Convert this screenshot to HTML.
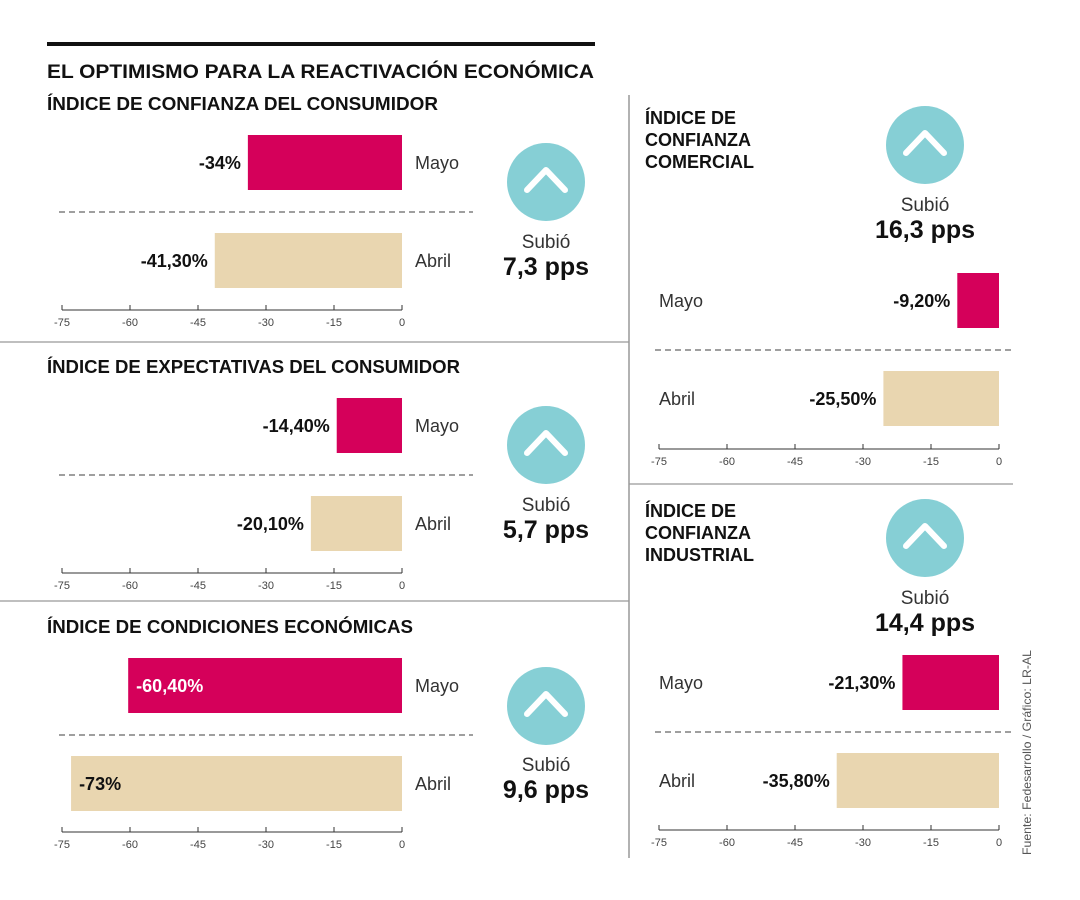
<!DOCTYPE html>
<html><head><meta charset="utf-8"><style>
html,body{margin:0;padding:0;background:#fff;}
svg{display:block;font-family:"Liberation Sans",sans-serif;}
</style></head><body>
<svg id="c" width="1080" height="900" viewBox="0 0 1080 900">
<rect x="47" y="42" width="548" height="4" fill="#111"/>
<text x="47" y="78" font-size="19" font-weight="bold" fill="#111" textLength="547" lengthAdjust="spacingAndGlyphs">EL OPTIMISMO PARA LA REACTIVACIÓN ECONÓMICA</text>
<line x1="629" y1="95" x2="629" y2="858" stroke="#888" stroke-width="1.3"/>
<line x1="0" y1="342" x2="629" y2="342" stroke="#999" stroke-width="1.3"/>
<line x1="0" y1="601" x2="629" y2="601" stroke="#999" stroke-width="1.3"/>
<line x1="629" y1="484" x2="1013" y2="484" stroke="#999" stroke-width="1.3"/>
<text transform="translate(1031,855) rotate(-90)" font-size="12" fill="#555" textLength="205" lengthAdjust="spacingAndGlyphs">Fuente: Fedesarrollo / Gráfico: LR-AL</text>
</svg>
<script>
const categories = ["Mayo","Abril"];
const titles = [["ÍNDICE DE CONFIANZA DEL CONSUMIDOR"],["ÍNDICE DE EXPECTATIVAS DEL CONSUMIDOR"],["ÍNDICE DE CONDICIONES ECONÓMICAS"],["ÍNDICE DE","CONFIANZA","COMERCIAL"],["ÍNDICE DE","CONFIANZA","INDUSTRIAL"]];
const mayoValues = [-34, -14.4, -60.4, -9.2, -21.3];
const abrilValues = [-41.3, -20.1, -73, -25.5, -35.8];
const mayoLabels = ["-34%","-14,40%","-60,40%","-9,20%","-21,30%"];
const abrilLabels = ["-41,30%","-20,10%","-73%","-25,50%","-35,80%"];
const changeLabels = ["7,3 pps","5,7 pps","9,6 pps","16,3 pps","14,4 pps"];
const ticks = [-75,-60,-45,-30,-15,0];

const svg = document.getElementById('c');
const NS = 'http://www.w3.org/2000/svg';
function mk(tag, attrs, txt){const e=document.createElementNS(NS,tag);for(const k in attrs)e.setAttribute(k,attrs[k]);if(txt!==undefined)e.textContent=txt;svg.appendChild(e);return e;}

// layout per panel
const panels = [
 {x0:62,x1:402,by:135,axisY:310,labelX:415,left:true,tx:47,ty:110,cx:546,cy:182,sy:248},
 {x0:62,x1:402,by:398,axisY:573,labelX:415,left:true,tx:47,ty:373,cx:546,cy:445,sy:511},
 {x0:62,x1:402,by:658,axisY:832,labelX:415,left:true,tx:47,ty:633,cx:546,cy:706,sy:771},
 {x0:659,x1:999,by:273,axisY:449,labelX:659,left:false,tx:645,ty:124,cx:925,cy:145,sy:211},
 {x0:659,x1:999,by:655,axisY:830,labelX:659,left:false,tx:645,ty:517,cx:925,cy:538,sy:604}
];

panels.forEach((p,i)=>{
 const sx = v => p.x1 + (v/75)*(p.x1-p.x0);
 titles[i].forEach((t,j)=>{
  const e=mk('text',{x:p.tx,y:p.ty+j*22,'font-size':18,'font-weight':'bold',fill:'#111'},t);
  
  
  if(titles[i].length===1){e.setAttribute('textLength', i===0?391:(i===1?413:366));e.setAttribute('lengthAdjust','spacingAndGlyphs');}
 });
 const vals=[mayoValues[i],abrilValues[i]], labs=[mayoLabels[i],abrilLabels[i]];
 const colors=['#d5005a','#e9d6b0'];
 vals.forEach((v,k)=>{
  const y=p.by+k*98;
  const r=mk('rect',{x:sx(v),y:y,width:sx(0)-sx(v),height:55,fill:colors[k]});
  
  
  const inside = (sx(v)-p.x0) < 100 && k===0 ? false : false;
  let lx = sx(v)-7, anchor='end', fill='#111';
  if (sx(v)-p.x0 < 80) { lx = sx(v)+8; anchor='start'; fill = k===0 ? '#fff':'#111'; }
  const t=mk('text',{x:lx,y:y+34,'font-size':18,'font-weight':'bold',fill:fill,'text-anchor':anchor},labs[k]);
  
  
  const c=mk('text',{x:p.labelX,y:y+34,'font-size':18,fill:'#333'},categories[k]);
  
  
 });
 const d=mk('line',{x1:p.left?59:655,y1:p.by+77,x2:p.left?473:1011,y2:p.by+77,stroke:'#666','stroke-width':1.2,'stroke-dasharray':'6,4'});
 
 
 const ax=mk('line',{x1:p.x0,y1:p.axisY,x2:p.x1,y2:p.axisY,stroke:'#333','stroke-width':1});
 
 
 ticks.forEach(tv=>{
  const tk=mk('line',{x1:sx(tv),y1:p.axisY-5,x2:sx(tv),y2:p.axisY,stroke:'#333','stroke-width':1});
  
  
  const tl=mk('text',{x:sx(tv),y:p.axisY+16,'font-size':11,fill:'#444','text-anchor':'middle'},String(tv));
  
  
 });
 const ci=mk('circle',{cx:p.cx,cy:p.cy,r:39,fill:'#86cfd5'});
 
 
 const ch=mk('polyline',{points:(p.cx-19)+','+(p.cy+8)+' '+p.cx+','+(p.cy-12)+' '+(p.cx+19)+','+(p.cy+8),fill:'none',stroke:'#fff','stroke-width':6,'stroke-linecap':'round','stroke-linejoin':'round'});
 
 
 const s1=mk('text',{x:p.cx,y:p.sy,'font-size':19,fill:'#333','text-anchor':'middle'},'Subió');
 
 
 const s2=mk('text',{x:p.cx,y:p.sy+27,'font-size':25,'font-weight':'bold',fill:'#111','text-anchor':'middle'},changeLabels[i]);
 
 
});
</script>
</body></html>
